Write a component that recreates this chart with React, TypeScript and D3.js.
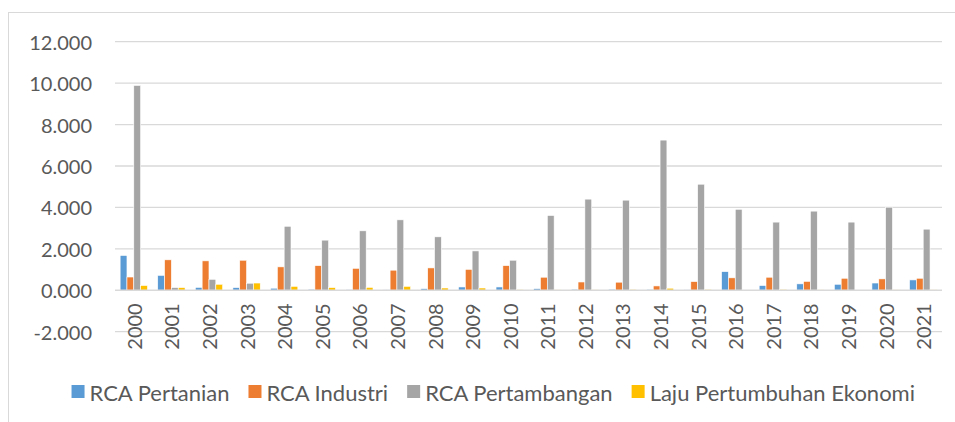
import React, { useEffect, useRef } from 'react';
import * as d3 from 'd3';

// chart values
const years = ['2000', '2001', '2002', '2003', '2004', '2005', '2006', '2007', '2008', '2009', '2010',
  '2011', '2012', '2013', '2014', '2015', '2016', '2017', '2018', '2019', '2020', '2021'];

const rcaPertanian = [1.68, 0.72, 0.14, 0.13, 0.10, 0.05, 0.03, 0.02, 0.08, 0.16, 0.16,
  0.08, 0.05, 0.05, 0.04, 0.02, 0.90, 0.23, 0.31, 0.29, 0.35, 0.50];
const rcaIndustri = [0.64, 1.47, 1.42, 1.45, 1.13, 1.19, 1.06, 0.97, 1.08, 1.01, 1.19,
  0.63, 0.40, 0.39, 0.21, 0.42, 0.60, 0.63, 0.43, 0.58, 0.55, 0.58];
const rcaPertambangan = [9.89, 0.13, 0.53, 0.34, 3.09, 2.42, 2.87, 3.40, 2.58, 1.90, 1.45,
  3.61, 4.40, 4.35, 7.25, 5.12, 3.91, 3.29, 3.82, 3.29, 4.01, 2.95];
const lajuEkonomi = [0.23, 0.13, 0.29, 0.35, 0.19, 0.13, 0.14, 0.19, 0.11, 0.11, 0.03,
  0.02, 0.02, 0.04, 0.10, 0.04, 0.01, 0.04, 0.02, -0.03, 0.02, 0.02];

const seriesNames = ['RCA Pertanian', 'RCA Industri', 'RCA Pertambangan', 'Laju Pertumbuhan Ekonomi'];
const seriesValues = [rcaPertanian, rcaIndustri, rcaPertambangan, lajuEkonomi];
const colors = ['#5B9BD5', '#ED7D31', '#A5A5A5', '#FFC000'];
const yTicks = [-2, 0, 2, 4, 6, 8, 10, 12];

const W = 955;
const H = 422;
const font = 'Lato, "Open Sans", sans-serif';

export default function App() {
  const ref = useRef<SVGSVGElement>(null);

  useEffect(() => {
    const svg = d3.select(ref.current);
    svg.selectAll('*').remove();

    const left = 115, right = 942, top = 41.7, bottom = 331.7;

    // outer frame (only top/left visible in the picture)
    svg.append('rect')
      .attr('x', 8.5).attr('y', 12.5)
      .attr('width', 1000).attr('height', 500)
      .attr('fill', 'none').attr('stroke', '#D9D9D9');

    const x = d3.scaleBand<string>()
      .domain(years)
      .range([left, right])
      .paddingInner(0.2727)
      .paddingOuter(0.1364);
    const xs = d3.scaleBand<number>()
      .domain(d3.range(seriesNames.length))
      .range([0, x.bandwidth()]);
    const y = d3.scaleLinear().domain([-2, 12]).range([bottom, top]);

    // gridlines
    svg.append('g')
      .selectAll('line')
      .data(yTicks.filter(t => t !== 0))
      .join('line')
      .attr('x1', left).attr('x2', right)
      .attr('y1', d => y(d)).attr('y2', d => y(d))
      .attr('stroke', '#D9D9D9').attr('stroke-width', 1.3);

    // y labels
    svg.append('g')
      .selectAll('text')
      .data(yTicks)
      .join('text')
      .attr('x', 92)
      .attr('y', d => y(d))
      .attr('text-anchor', 'end')
      .attr('dominant-baseline', 'central')
      .attr('font-family', font)
      .attr('font-size', 20)
      .attr('fill', '#595959')
      .text(d => d3.format('.3f')(d).replace('−', '-'));

    // bars
    const groups = svg.append('g')
      .selectAll('g')
      .data(years)
      .join('g')
      .attr('transform', d => `translate(${x(d)},0)`);
    groups.selectAll('rect')
      .data((_, i) => seriesValues.map((vals, s) => ({ s, v: vals[i] })))
      .join('rect')
      .attr('x', d => xs(d.s)!)
      .attr('width', xs.bandwidth())
      .attr('y', d => y(Math.max(0, d.v)))
      .attr('height', d => Math.abs(y(d.v) - y(0)))
      .attr('fill', d => colors[d.s])
      .attr('stroke', '#fff')
      .attr('stroke-width', 0.6);

    // category axis line
    svg.append('line')
      .attr('x1', left).attr('x2', right)
      .attr('y1', y(0)).attr('y2', y(0))
      .attr('stroke', '#D9D9D9').attr('stroke-width', 1.3);

    // x labels, rotated
    svg.append('g')
      .selectAll('text')
      .data(years)
      .join('text')
      .attr('transform', d => `translate(${x(d)! + x.bandwidth() / 2},${y(0) + 13}) rotate(-90)`)
      .attr('text-anchor', 'end')
      .attr('dominant-baseline', 'central')
      .attr('font-family', font)
      .attr('font-size', 20)
      .attr('fill', '#595959')
      .text(d => d);

    // legend: laid out in a row, right end of the last text at ~915
    const lg = svg.append('g')
      .selectAll('g')
      .data(seriesNames)
      .join('g');
    lg.append('rect')
      .attr('x', 0).attr('y', 385)
      .attr('width', 13).attr('height', 13)
      .attr('fill', (_, i) => colors[i]);
    const texts = lg.append('text')
      .attr('x', 18)
      .attr('y', 392)
      .attr('dominant-baseline', 'central')
      .attr('font-family', font)
      .attr('font-size', 22)
      .attr('fill', '#595959')
      .text(d => d);
    const widths = texts.nodes().map(n => (n as SVGTextElement).getComputedTextLength());
    const total = d3.sum(widths) + widths.length * 18 + (widths.length - 1) * 19;
    let cursor = 915 - total;
    lg.attr('transform', (_, i) => {
      const tx = cursor;
      cursor += 18 + widths[i] + 19;
      return `translate(${tx},0)`;
    });
  }, []);

  return (
    <svg ref={ref} width={W} height={H}
      style={{ position: 'absolute', left: 0, top: 0, background: '#fff' }} />
  );
}
